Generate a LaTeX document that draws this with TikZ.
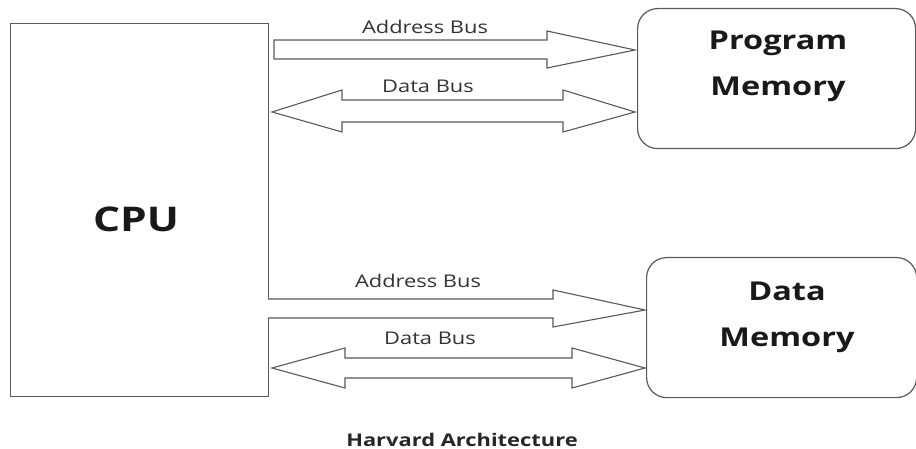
\documentclass[tikz,border=0pt]{standalone}
\usepackage{fontspec}
\setmainfont{Open Sans}[FakeStretch=1.25]
\begin{document}
\begin{tikzpicture}[x=1pt,y=-1pt,
  box/.style={draw=black!65,line width=1.2pt},
  busarrow/.style={draw=black!65,line width=1.1pt,line join=miter,fill=white},
  buslabel/.style={font=\fontsize{17.5}{20}\selectfont,text=black!80,inner sep=0pt},
  boxlabel/.style={font=\bfseries\fontsize{26}{46}\selectfont,text=black!90,align=center,inner sep=0pt}]
\useasboundingbox (0,0) rectangle (916,449);
\node[box,minimum width=258pt,minimum height=373pt,anchor=north west,inner sep=0pt] (cpu) at (10,23) {};
\node[font=\bfseries\fontsize{34}{40}\selectfont,text=black!90,inner sep=0pt] (cpulbl) at (136,219) {CPU};
\node[box,rounded corners=20pt,minimum width=278pt,minimum height=140pt,anchor=north west,inner sep=0pt] (pm) at (637,8) {};
\node[boxlabel] (pmlbl) at (778,66) {Program\\Memory};
\node[box,rounded corners=20pt,minimum width=270pt,minimum height=140pt,anchor=north west,inner sep=0pt] (dm) at (646,257) {};
\node[boxlabel] (dmlbl) at (787,317) {Data\\Memory};
% upper buses
\draw[busarrow] (274,40) -- (547,40) -- (547,31) -- (635,50) -- (547,68) -- (547,59) -- (274,59) -- cycle;
\node[buslabel] (ab1) at (425,27) {Address Bus};
\draw[busarrow] (272,112) -- (342,90) -- (342,100) -- (563,100) -- (563,90) -- (635,112) -- (563,132) -- (563,122) -- (342,122) -- (342,132) -- cycle;
\node[buslabel] (db1) at (428,86) {Data Bus};
% lower buses
\draw[busarrow] (268,299) -- (553,299) -- (553,290) -- (645,310) -- (553,327) -- (553,318) -- (268,318);
\node[buslabel] (ab2) at (418,281) {Address Bus};
\draw[busarrow] (272,368) -- (345,348) -- (345,358) -- (572,358) -- (572,348) -- (645,368) -- (572,388) -- (572,378) -- (345,378) -- (345,388) -- cycle;
\node[buslabel] (db2) at (430,338) {Data Bus};
\node[font=\bfseries\fontsize{17.5}{20}\selectfont,text=black!85,inner sep=0pt] (title) at (462,440) {Harvard Architecture};
\end{tikzpicture}
\end{document}
